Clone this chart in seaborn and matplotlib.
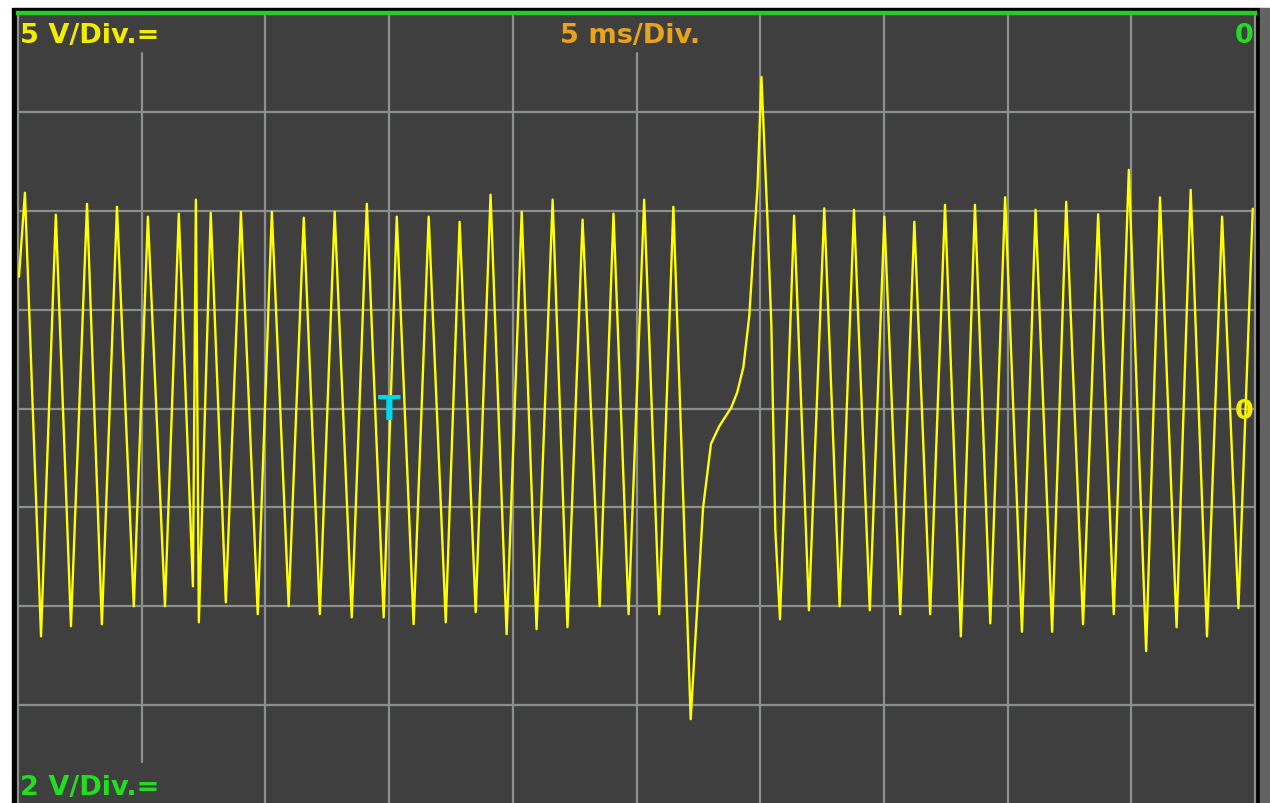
import numpy as np
import pandas as pd
import matplotlib.pyplot as plt
import seaborn as sns
from matplotlib.patches import Rectangle

# trace vertices: time in ms, voltage in V
time_ms = [0.04, 0.28, 0.93, 1.53, 2.14, 2.79, 3.39, 4.00, 4.68, 5.25, 5.94, 6.50,
           7.07, 7.19, 7.31, 7.79, 8.40, 9.01, 9.69, 10.26, 10.94, 11.55, 12.20, 12.80,
           13.49, 14.10, 14.78, 15.31, 15.99, 16.60, 17.29, 17.85, 18.50, 19.10, 19.75,
           20.36, 20.96, 21.61, 22.21, 22.82, 23.51, 24.07, 24.68, 25.31, 25.92, 26.49,
           27.19, 27.69, 28.01, 28.34, 28.83, 29.07, 29.32, 29.56, 29.73, 29.89, 30.05,
           30.29, 30.45, 30.61, 30.80, 31.37, 31.97, 32.59, 33.21, 33.79, 34.43, 35.02,
           35.66, 36.23, 36.87, 37.47, 38.11, 38.68, 39.30, 39.90, 40.58, 41.13, 41.80,
           42.37, 43.05, 43.66, 44.29, 44.90, 45.60, 46.16, 46.83, 47.40, 48.06, 48.67,
           49.33, 49.91]
volts = [6.67, 10.91, -11.52, 9.80, -11.01, 10.35, -10.91, 10.20, -10.0, 9.70, -10.0, 9.85,
         -8.99, 10.56, -10.81, 9.90, -9.80, 9.95, -10.40, 9.95, -10.0, 9.65, -10.40, 9.95,
         -10.56, 10.35, -10.56, 9.70, -10.91, 9.70, -10.81, 9.44, -10.30, 10.81, -11.41,
         9.95, -11.16, 10.56, -11.06, 9.55, -10.0, 9.85, -10.40, 10.56, -10.40, 10.20,
         -15.71, -5.03, -1.79, -0.91, 0.05, 0.81, 2.09, 4.70, 8.13, 11.16, 16.77,
         9.65, 4.24, -6.11, -10.66, 9.75, -10.20, 10.12, -10.0, 10.05, -10.20, 9.70,
         -10.40, 9.44, -10.40, 10.30, -11.52, 10.30, -10.86, 10.68, -11.29, 10.05, -11.29,
         10.45, -10.91, 9.82, -10.40, 12.07, -12.27, 10.68, -11.06, 11.06, -11.52, 9.70,
         -10.10, 10.10]

ch1_label = '5 V/Div.='
ch2_label = '2 V/Div.='
time_label = '5 ms/Div.'
trig_ms = 15.0
trig_v = 0.0

df = pd.DataFrame({'t': time_ms, 'v': volts})

W, H = 1270, 804
sns.set_style('dark')
plt.rcParams['font.family'] = ['DejaVu Sans']


def fx(x):
    return x / W


def fy(y):
    return 1 - y / H


fig = plt.figure(figsize=(W / 100, H / 100), dpi=100)
fig.patch.set_facecolor('white')

# black frame + grey strip at the right (behind the axes)
fig.patches.append(Rectangle((fx(12), 0), fx(1260) - fx(12), fy(9),
                             transform=fig.transFigure, color='black', zorder=-10))
fig.patches.append(Rectangle((fx(1260), 0), 1 - fx(1260), fy(9),
                             transform=fig.transFigure, color='#626262', zorder=-10))

ax = fig.add_axes([fx(18), fy(805), fx(1255) - fx(18), fy(14) - fy(805)])
ax.set_zorder(1)
ax.set_facecolor('#3f3f3f')

grid_c = '#8c908c'
for xv in np.arange(5, 50, 5):
    if xv == 5:
        ax.axvline(xv, ymin=0.053, ymax=0.9495, color=grid_c, lw=1.6, zorder=1)
    elif xv == 25:
        ax.axvline(xv, ymin=0, ymax=0.9495, color=grid_c, lw=1.6, zorder=1)
    else:
        ax.axvline(xv, color=grid_c, lw=1.6, zorder=1)
for yv in np.arange(-15, 20, 5):
    ax.axhline(yv, color=grid_c, lw=1.6, zorder=1)

sns.lineplot(data=df, x='t', y='v', sort=False, estimator=None,
             color='#ffff00', lw=1.7, ax=ax, zorder=3)

ax.set_xlim(0, 50)
ax.set_ylim(-20, 20)
ax.set_xticks([])
ax.set_yticks([])
ax.set_xlabel('')
ax.set_ylabel('')
for s in ['left', 'right']:
    ax.spines[s].set_color(grid_c)
    ax.spines[s].set_linewidth(1.6)
ax.spines['top'].set_color('#22d022')
ax.spines['top'].set_linewidth(3.2)
ax.spines['bottom'].set_visible(False)

# trigger marker
ax.text(trig_ms, trig_v - 0.55, 'T', color='#00d8f0', fontsize=24,
        fontweight='bold', ha='center', va='baseline', zorder=4)

txt = dict(fontsize=19.5, fontweight='bold', va='baseline', zorder=5)
fig.text(fx(20), fy(43), ch1_label, color='#f2ec00', ha='left', **txt)
fig.text(fx(560), fy(43), time_label, color='#e8a31c', ha='left', **txt)
fig.text(fx(1254), fy(43), '0', color='#22dd22', ha='right', **txt)
fig.text(fx(20), fy(795), ch2_label, color='#22dd22', ha='left', **txt)
fig.text(fx(1254), fy(419), '0', color='#f2ec00', ha='right', **txt)

fig.savefig('out.png', dpi=100, facecolor=fig.get_facecolor())
